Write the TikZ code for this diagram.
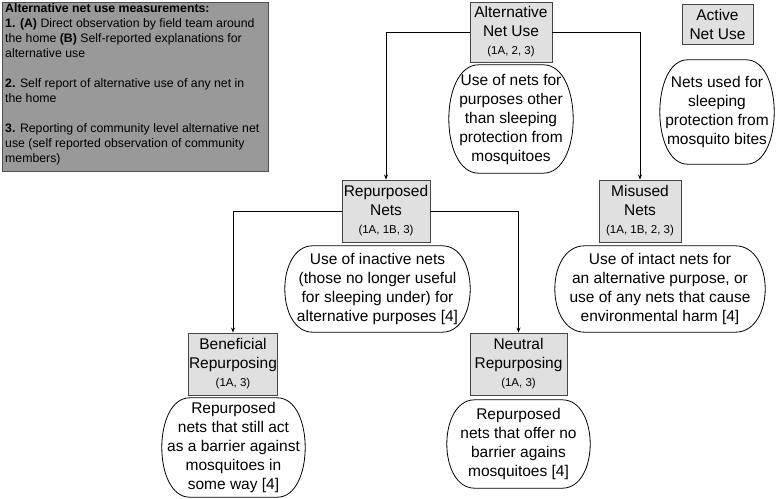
\documentclass[tikz,border=0pt]{standalone}
\usepackage{fontspec}
\setmainfont{Liberation Sans}
\usetikzlibrary{arrows.meta}
\definecolor{boxfill}{RGB}{224,224,224}
\definecolor{boxline}{RGB}{70,70,70}
\definecolor{legfill}{RGB}{153,153,153}
\definecolor{legline}{RGB}{80,80,80}
\newcommand{\mainf}{\fontsize{15.5}{19}\selectfont}
\newcommand{\smallf}{\fontsize{11.5}{14}\selectfont}
\newcommand{\legf}{\fontsize{12.3}{15}\selectfont}
% outline of a definition bubble: #1 node name, #2 corner inset
\newcommand{\bubble}[2]{%
  \draw[bubbleline]
    ([xshift=#2]#1.north west) -- ([xshift=-#2]#1.north east)
    .. controls ([xshift=#2/3]#1.north east) and ([xshift=#2/3]#1.south east) ..
    ([xshift=-#2]#1.south east) -- ([xshift=#2]#1.south west)
    .. controls ([xshift=-#2/3]#1.south west) and ([xshift=-#2/3]#1.north west) ..
    cycle;}
\tikzset{
  catbox/.style={draw=boxline, fill=boxfill, line width=0.9pt, align=center, inner sep=0pt, font=\mainf},
  defn/.style={align=center, inner sep=0pt, font=\mainf},
  bubbleline/.style={draw=black, line width=0.8pt},
  conn/.style={draw=black, line width=0.9pt, -{Stealth[length=5pt,width=4pt]}}
}
\begin{document}
\begin{tikzpicture}[x=1pt,y=-1pt]
\useasboundingbox (0,0) rectangle (784,498);
% legend
\node[draw=legline, fill=legfill, line width=0.9pt, minimum width=266, minimum height=169,
      anchor=north west, inner sep=0pt] (leg) at (2,2) {};
\node[anchor=north west, align=left, font=\legf, inner sep=0pt] (legtext) at (5,3.5)
 {\textbf{Alternative net use measurements:}\\
  \textbf{1. (A)} Direct observation by field team around\\
  the home \textbf{(B)} Self-reported explanations for\\
  alternative use\\[15pt]
  \textbf{2.} Self report of alternative use of any net in\\
  the home\\[15pt]
  \textbf{3.} Reporting of community level alternative net\\
  use (self reported observation of community\\
  members)};
% category boxes
\node[catbox, minimum width=82, minimum height=60] (alt) at (511,32)
 {Alternative\\Net Use\\[-1pt]{\smallf (1A, 2, 3)}};
\node[catbox, minimum width=71, minimum height=40] (act) at (717.5,24)
 {Active\\Net Use};
\node[catbox, minimum width=88, minimum height=62] (rep) at (386,211)
 {Repurposed\\Nets\\[-1pt]{\smallf (1A, 1B, 3)}};
\node[catbox, minimum width=82, minimum height=62] (mis) at (640,211)
 {Misused\\Nets\\[-1pt]{\smallf (1A, 1B, 2, 3)}};
\node[catbox, minimum width=89, minimum height=62] (ben) at (233,364)
 {Beneficial\\Repurposing\\[-1pt]{\smallf (1A, 3)}};
\node[catbox, minimum width=97, minimum height=62] (neu) at (518.5,364)
 {Neutral\\Repurposing\\[-1pt]{\smallf (1A, 3)}};
% definitions
\node[defn, minimum width=124, minimum height=108] (altd) at (511,119)
 {Use of nets for\\purposes other\\than sleeping\\protection from\\mosquitoes};
\node[defn, minimum width=114, minimum height=104] (actd) at (717,112)
 {Nets used for\\sleeping\\protection from\\mosquito bites};
\node[defn, minimum width=185, minimum height=86] (repd) at (377.5,289)
 {Use of inactive nets\\(those no longer useful\\for sleeping under) for\\alternative purposes [4]};
\node[defn, minimum width=210, minimum height=86] (misd) at (660,289)
 {Use of intact nets for\\an alternative purpose, or\\use of any nets that cause\\environmental harm [4]};
\node[defn, minimum width=143, minimum height=99] (bend) at (233.5,447.5)
 {Repurposed\\nets that still act\\as a barrier against\\mosquitoes in\\some way [4]};
\node[defn, minimum width=143, minimum height=88] (neud) at (518.5,444)
 {Repurposed\\nets that offer no\\barrier agains\\mosquitoes [4]};
\bubble{altd}{30}
\bubble{actd}{28}
\bubble{repd}{28}
\bubble{misd}{30}
\bubble{bend}{28}
\bubble{neud}{28}
% connectors
\draw[conn] (alt.west) -| (rep.north);
\draw[conn] (alt.east) -| (mis.north);
\draw[conn] (rep.west) -| (ben.north);
\draw[conn] (rep.east) -| (neu.north);
\end{tikzpicture}
\end{document}
